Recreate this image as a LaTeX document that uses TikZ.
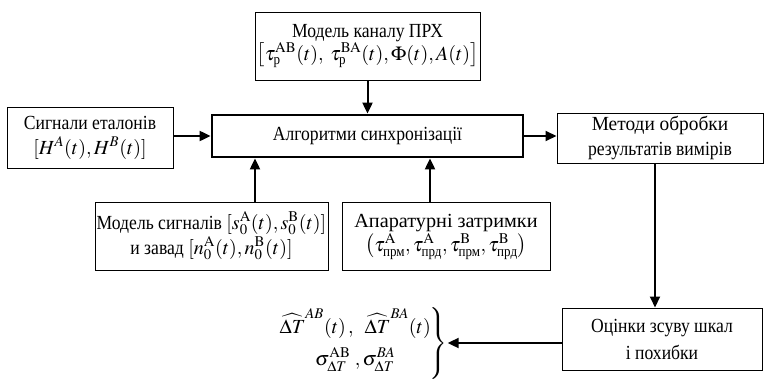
\documentclass[tikz,border=0pt]{standalone}
\usepackage{amsmath}
\usepackage{graphicx}
\usepackage{mathptmx}
\usepackage{fontspec}
\setmainfont[FakeStretch=0.88]{Liberation Serif}
\usetikzlibrary{arrows.meta,calc}
\begin{document}
\begin{tikzpicture}[x=1pt,y=-1pt,
  box/.style={draw,line width=1pt,inner sep=0pt,align=center,font=\fontsize{20}{27}\selectfont},
  mainbox/.style={box,line width=2.8pt},
  arr/.style={line width=2pt,-{Triangle[length=11pt,width=10pt]}}]
\useasboundingbox (0,0) rectangle (765,383);
\node[box,minimum width=225,minimum height=68] (chan) at (367.5,46)
  {Модель каналу ПРХ\\[-4pt] $\left[\tau_{\text{р}}^{\mathrm{AB}}(t),\ \tau_{\text{р}}^{\mathrm{BA}}(t),\Phi(t),A(t)\right]$};
\node[mainbox,minimum width=311,minimum height=42] (alg) at (367.5,136) {Алгоритми синхронізації};
\node[box,minimum width=166,minimum height=61] (sig) at (90,137.5)
  {Сигнали еталонів\\[-2pt] $[H^{A}(t), H^{B}(t)]$};
\node[box,minimum width=206,minimum height=50] (meth) at (660,138)
  {\scalebox{1.1}[1]{Методи обробки}\\[-2pt] результатів вимірів};
\node[box,minimum width=233,minimum height=68] (model) at (211.5,236)
  {Модель сигналів\ $[s_0^{\mathrm{A}}(t), s_0^{\mathrm{B}}(t)]$\\[-2pt] и завад\ $[n_0^{\mathrm{A}}(t), n_0^{\mathrm{B}}(t)]$};
\node[box,minimum width=208,minimum height=68] (hw) at (446,236.5)
  {\scalebox{1.15}[1]{Апаратурні затримки}\\[-3pt] $\left(\tau_{\text{прм}}^{\mathrm{A}}, \tau_{\text{прд}}^{\mathrm{A}}, \tau_{\text{прм}}^{\mathrm{B}}, \tau_{\text{прд}}^{\mathrm{B}}\right)$};
\node[box,minimum width=200,minimum height=62] (est) at (662,339)
  {Оцінки зсуву шкал\\ і похибки};
\node[align=center,inner sep=0pt,anchor=east,font=\fontsize{20}{32}\selectfont] (res) at (431,340)
  {$\widehat{\Delta T}^{AB}\!\left(t\right),\ \ \widehat{\Delta T}^{BA}\!\left(t\right)$\\ $\sigma_{\Delta T}^{\mathrm{AB}}\ ,\sigma_{\Delta T}^{BA}$};
\node[inner sep=0pt,font=\fontsize{20}{26}\selectfont] (brace) at (438,343.5) {$\left.\rule{0pt}{38pt}\right\}$};
\draw[arr] (chan.south) -- (alg.north);
\draw[arr] (sig.east |- alg.west) -- (alg.west);
\draw[arr] (alg.east) -- (alg.east -| meth.west);
\draw[arr] ([xshift=43.5pt]model.north) -- ([xshift=43.5pt]model.north |- alg.south);
\draw[arr] ([xshift=-16pt]hw.north) -- ([xshift=-16pt]hw.north |- alg.south);
\draw[arr] ([xshift=-5pt]meth.south) -- ([xshift=-5pt]meth.south |- est.north);
\draw[arr] ([yshift=-4pt]est.west) -- ([yshift=-4pt]est.west -| brace.east);
\end{tikzpicture}
\end{document}
